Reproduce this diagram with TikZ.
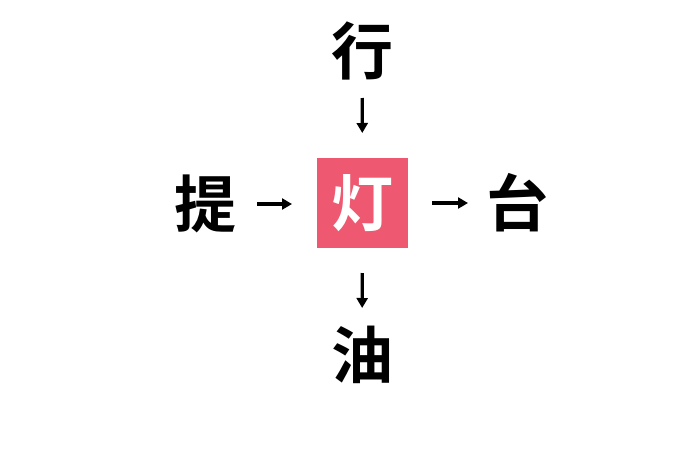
\documentclass[tikz,border=0pt]{standalone}
\usepackage{fontspec}
\newfontfamily\cjk{Noto Sans CJK JP}[BoldFont={* Bold}]
\usepackage{tikz}
\usetikzlibrary{arrows.meta}
\definecolor{lamppink}{RGB}{238,88,112}
\tikzset{
  >={Triangle[length=10pt,width=11pt]},
}
\tikzstyle{every node}=[font=\cjk\bfseries\fontsize{62}{62}\selectfont,inner sep=0pt]
\tikzstyle{hanzi}=[text=black]
\tikzstyle{center box}=[fill=lamppink,text=white,minimum width=91,minimum height=90]
\tikzstyle{arrow}=[line width=3.2pt,->]

\begin{document}
\begin{tikzpicture}[x=1pt,y=-1pt]
    \useasboundingbox[fill=white] (0,0) rectangle (680,453);
    \node[center box] (deng) at (362.5,203) {灯};
    \node[hanzi] (xing) at (362,51) {行};
    \node[hanzi] (ti) at (205,204) {提};
    \node[hanzi] (tai) at (517,203) {台};
    \node[hanzi] (you) at (362,355) {油};
    \draw[arrow,shorten <=47pt,shorten >=70pt] (xing.center) -- (deng.center);
    \draw[arrow,shorten <=52pt,shorten >=70.5pt] (ti.center) -- (deng.center |- ti.center);
    \draw[arrow,shorten <=69.5pt,shorten >=49pt] (deng.center |- tai.center) -- (tai.center);
    \draw[arrow,shorten <=70pt,shorten >=47pt] (deng.center) -- (you.center);
\end{tikzpicture}
\end{document}
